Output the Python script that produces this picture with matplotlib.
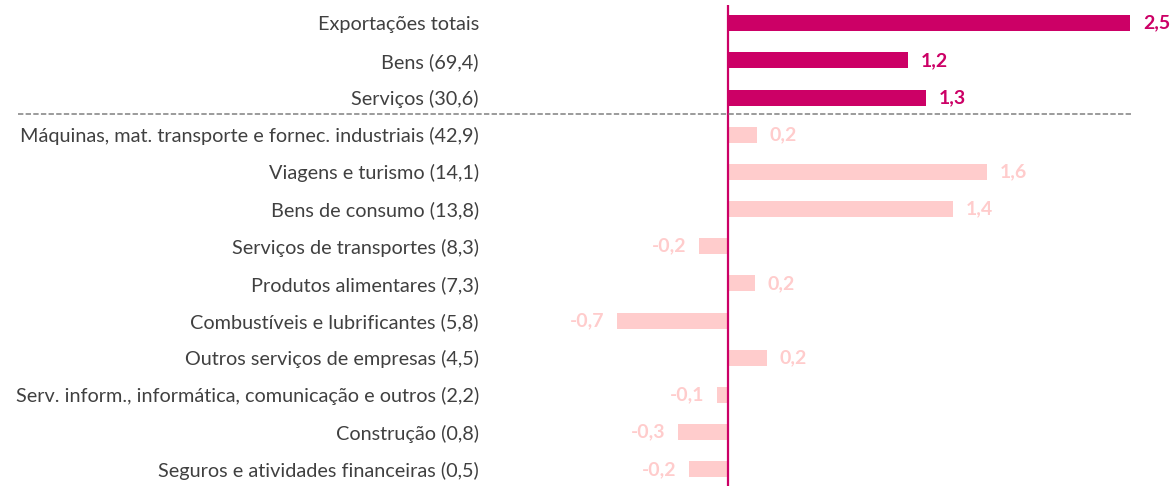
import matplotlib
matplotlib.use("Agg")
import matplotlib.pyplot as plt
from matplotlib.transforms import blended_transform_factory

# categories (weight in brackets) and contribution values (p.p.)
categories = [
    "Exportações totais",
    "Bens (69,4)",
    "Serviços (30,6)",
    "Máquinas, mat. transporte e fornec. industriais (42,9)",
    "Viagens e turismo (14,1)",
    "Bens de consumo (13,8)",
    "Serviços de transportes (8,3)",
    "Produtos alimentares (7,3)",
    "Combustíveis e lubrificantes (5,8)",
    "Outros serviços de empresas (4,5)",
    "Serv. inform., informática, comunicação e outros (2,2)",
    "Construção (0,8)",
    "Seguros e atividades financeiras (0,5)",
]
values = [2.50, 1.12, 1.23, 0.18, 1.61, 1.40, -0.18, 0.17, -0.69, 0.24, -0.07, -0.31, -0.24]
value_labels = ["2,5", "1,2", "1,3", "0,2", "1,6", "1,4", "-0,2", "0,2", "-0,7", "0,2",
                "-0,1", "-0,3", "-0,2"]
n_main = 3  # first rows are the totals

dark = "#CC0066"
light = "#FFCCCC"

plt.rcParams['font.family'] = ['Lato', 'DejaVu Sans']

fig = plt.figure(figsize=(11.72, 4.86), dpi=100)
ax = fig.add_axes([490 / 1172, 0, 682 / 1172, 481 / 486])

ypos = list(range(len(categories)))
colors = [dark if i < n_main else light for i in ypos]
ax.barh(ypos, values, height=0.43, color=colors)

for y, v, lab, c in zip(ypos, values, value_labels, colors):
    off = 9 if v >= 0 else -9
    ax.annotate(lab, (v, y), xytext=(off, 0), textcoords="offset points",
                ha="left" if v >= 0 else "right", va="center",
                fontsize=14, fontweight="bold", color=c)

ax.axvline(0, color=dark, lw=1.6)

# dashed separator between totals and product groups
tr = blended_transform_factory(ax.transAxes, ax.transData)
ax.plot([-0.692, 0.943], [n_main - 0.55, n_main - 0.55], transform=tr,
        color="#808080", lw=1.1, ls=(0, (3.5, 1.5)), clip_on=False)

ax.set_xlim(-1.478, 2.758)
ax.set_ylim(12.45, -0.49)
ax.set_yticks(ypos)
ax.set_yticklabels(categories, fontsize=14.3, color="#404040")
ax.tick_params(axis="y", length=0, pad=8)
ax.set_xticks([])
for s in ax.spines.values():
    s.set_visible(False)

fig.savefig("out.png", dpi=100)
